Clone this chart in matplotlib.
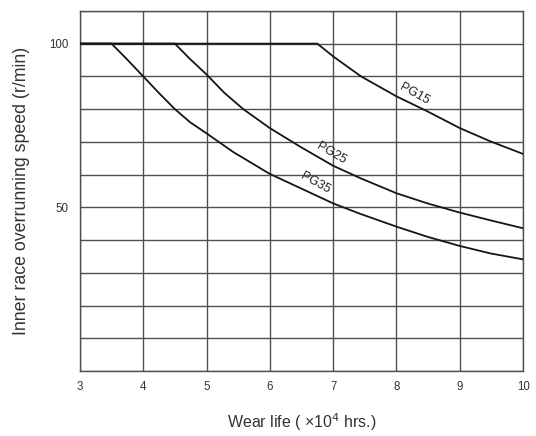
"""
Wear life vs inner race overrunning speed for PG15 / PG25 / PG35.
"""

import matplotlib
matplotlib.use('Agg')
import matplotlib.pyplot as plt
import numpy as np

# Curves (x = wear life x10^4 hrs, y = speed r/min)
pg15_x = [3.0, 6.75, 7.0, 7.44, 8.0, 8.49, 9.0, 9.49, 10.0]
pg15_y = [100, 100, 96.1, 90, 83.9, 79.3, 74.2, 70.1, 66.3]

pg25_x = [3.0, 4.5, 4.74, 5.0, 5.28, 5.58, 6.0, 6.49, 7.0, 7.43, 8.0, 8.49, 9.0, 9.49, 10.0]
pg25_y = [100, 100, 95.3, 90.6, 85.0, 80, 74.2, 68.4, 62.7, 58.9, 54.3, 51.2, 48.4, 46.0, 43.6]

pg35_x = [3.0, 3.5, 3.74, 4.0, 4.26, 4.5, 4.74, 5.0, 5.43, 6.0, 6.49, 7.0, 7.43, 8.0, 8.49, 9.0, 9.49, 10.0]
pg35_y = [100, 100, 95.3, 90, 84.7, 80, 76.0, 72.6, 66.8, 60.2, 55.8, 51.2, 48.0, 44.1, 41.0, 38.2, 35.9, 34.1]

curve_labels = ['PG15', 'PG25', 'PG35']
label_pos = [(8.28, 84.6, -29), (6.97, 66.4, -30), (6.72, 57.3, -29)]

x_ticks = [3, 4, 5, 6, 7, 8, 9, 10]
y_grid = np.arange(0, 111, 10)
y_labelled = [50, 100]

plt.rcParams['font.family'] = ['Liberation Sans', 'DejaVu Sans']

fig = plt.figure(figsize=(5.36, 4.36), dpi=100)
ax = fig.add_axes([0.149, 0.149, 0.827, 0.826])

grid_col = '#505050'
for xv in x_ticks:
    ax.axvline(xv, color=grid_col, lw=1.0, zorder=1)
for yv in y_grid:
    ax.axhline(yv, color=grid_col, lw=1.0, zorder=1)

for xs, ys in zip([pg15_x, pg25_x, pg35_x], [pg15_y, pg25_y, pg35_y]):
    ax.plot(xs, ys, color='#151515', lw=1.3, zorder=3, solid_joinstyle='round')

for name, (lx, ly, rot) in zip(curve_labels, label_pos):
    ax.text(lx, ly, name, rotation=rot, ha='center', va='center',
            fontsize=9, color='#222222', zorder=4,
            rotation_mode='anchor')

ax.set_xlim(3, 10)
ax.set_ylim(0, 110)
ax.set_xticks(x_ticks)
ax.set_yticks(y_grid)
ax.set_yticklabels([str(v) if v in y_labelled else '' for v in y_grid])
ax.tick_params(length=0, labelsize=8.3, labelcolor='#333333')
ax.tick_params(axis='x', pad=7)
ax.tick_params(axis='y', pad=8)

for s in ax.spines.values():
    s.set_color(grid_col)
    s.set_linewidth(1.0)

ax.set_xlabel('Wear life ( \u00d710$^4$ hrs.)', fontsize=11.5, color='#333333', labelpad=13)
ax.set_ylabel('Inner race overrunning speed (r/min)', fontsize=12.8, color='#333333', labelpad=14)

fig.savefig('out.png', dpi=100)
